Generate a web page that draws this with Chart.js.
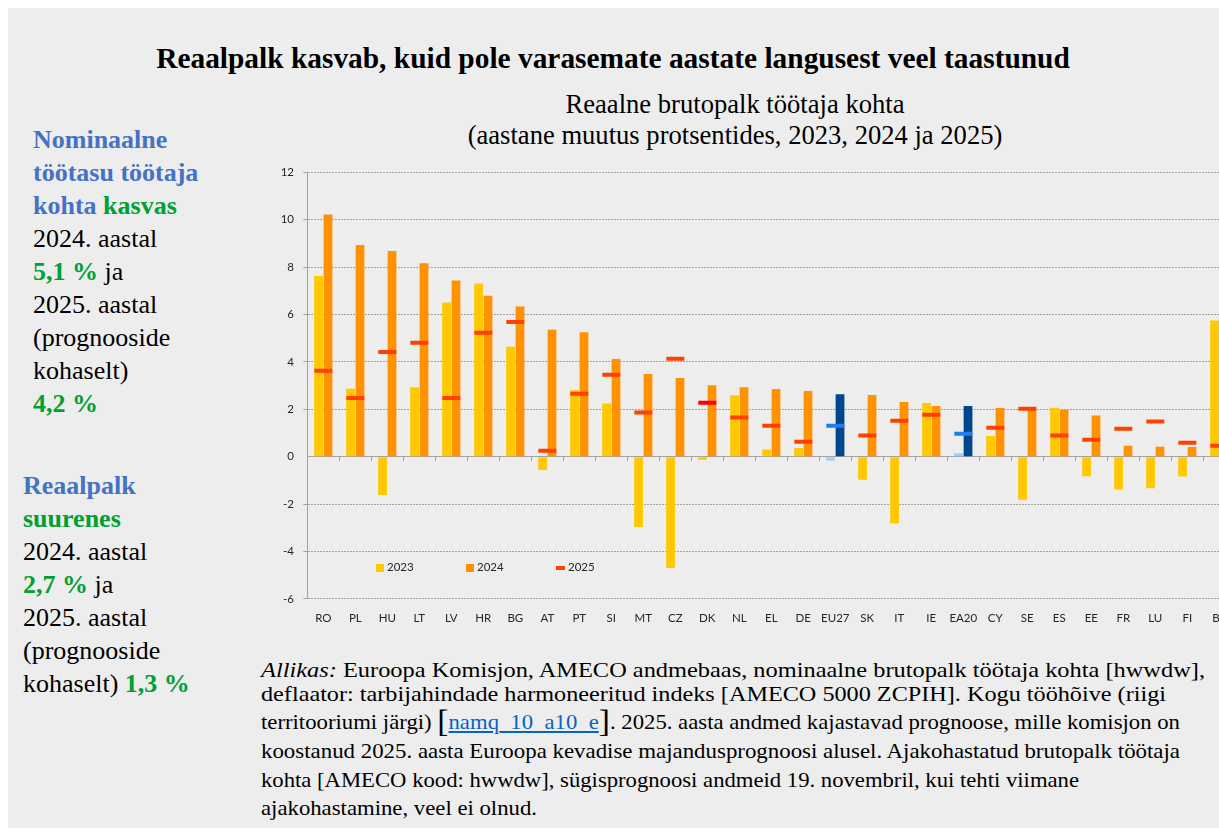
<!DOCTYPE html>
<html><head><meta charset="utf-8">
<script src="https://cdn.jsdelivr.net/npm/chart.js@4.4.1/dist/chart.umd.min.js"></script>
<style>
html,body{margin:0;padding:0;width:1219px;height:828px;overflow:hidden;background:#fff;position:relative;}
#bg{position:absolute;left:8px;top:8px;width:1211px;height:820px;background:#EDEDED;}
.serif{font-family:"Liberation Serif","Times New Roman",serif;color:#000;}
#title{position:absolute;left:0;width:1226px;top:40px;text-align:center;font-weight:bold;font-size:29.4px;line-height:36px;white-space:nowrap;}
#sub{position:absolute;left:335px;width:800px;top:89px;text-align:center;font-size:26.6px;line-height:31px;white-space:nowrap;}
.side{position:absolute;font-size:26px;line-height:33px;white-space:nowrap;}
.b{font-weight:bold;color:#4472C4;}
.g{font-weight:bold;color:#00A032;}
.fn{position:absolute;left:261px;font-size:21px;white-space:nowrap;line-height:24px;transform-origin:0 50%;}
.fn a{color:#0563C1;text-decoration:underline;}
.br{font-size:31px;vertical-align:-3px;}
#chartwrap{position:absolute;left:250px;top:150px;width:1000px;height:490px;}
.lg{position:absolute;font-family:Lato,"Open Sans",sans-serif;font-size:11.5px;color:#262626;line-height:14px;}
.sq{position:absolute;width:8px;height:8px;}
</style></head>
<body>
<div id="bg"></div>
<div id="title" class="serif">Reaalpalk kasvab, kuid pole varasemate aastate langusest veel taastunud</div>
<div id="sub" class="serif">Reaalne brutopalk töötaja kohta<br>(aastane muutus protsentides, 2023, 2024 ja 2025)</div>

<div class="side serif" style="left:33px;top:123px;">
<span class="b">Nominaalne</span><br>
<span class="b">töötasu töötaja</span><br>
<span class="b">kohta</span> <span class="g">kasvas</span><br>
2024. aastal<br>
<span class="g">5,1 %</span> ja<br>
2025. aastal<br>
(prognooside<br>
kohaselt)<br>
<span class="g">4,2 %</span>
</div>
<div class="side serif" style="left:23px;top:469px;">
<span class="b">Reaalpalk</span><br>
<span class="g">suurenes</span><br>
2024. aastal<br>
<span class="g">2,7 %</span> ja<br>
2025. aastal<br>
(prognooside<br>
kohaselt) <span class="g">1,3 %</span>
</div>

<div class="fn serif" data-right="1205" style="top:658px;"><i>Allikas:</i> Euroopa Komisjon, AMECO andmebaas, nominaalne brutopalk töötaja kohta [hwwdw],</div>
<div class="fn serif" data-right="1166" style="top:682px;">deflaator: tarbijahindade harmoneeritud indeks [AMECO 5000 ZCPIH]. Kogu tööhõive (riigi</div>
<div class="fn serif" data-right="1180" style="top:710px;">territooriumi järgi) <span class="br">[</span><a>namq_10_a10_e</a><span class="br">]</span>. 2025. aasta andmed kajastavad prognoose, mille komisjon on</div>
<div class="fn serif" data-right="1180" style="top:739px;">koostanud 2025. aasta Euroopa kevadise majandusprognoosi alusel. Ajakohastatud brutopalk töötaja</div>
<div class="fn serif" data-right="1079" style="top:768px;">kohta [AMECO kood: hwwdw], sügisprognoosi andmeid 19. novembril, kui tehti viimane</div>
<div class="fn serif" data-right="537" style="top:796px;">ajakohastamine, veel ei olnud.</div>

<div id="chartwrap"><canvas id="c" width="1000" height="490"></canvas></div>

<div class="sq" style="left:376px;top:564px;background:#FFC800;"></div>
<div class="lg" style="left:387px;top:560px;">2023</div>
<div class="sq" style="left:466px;top:564px;background:#FF9200;"></div>
<div class="lg" style="left:477px;top:560px;">2024</div>
<div class="sq" style="left:556px;top:566px;width:9px;height:4px;background:#FF4000;"></div>
<div class="lg" style="left:568px;top:560px;">2025</div>

<script>
const categories = ['RO','PL','HU','LT','LV','HR','BG','AT','PT','SI','MT','CZ','DK','NL','EL','DE','EU27','SK','IT','IE','EA20','CY','SE','ES','EE','FR','LU','FI','BE'];
const values2023 = [7.62,2.87,-1.62,2.93,6.51,7.31,4.64,-0.56,2.81,2.25,-2.97,-4.70,-0.13,2.59,0.30,0.37,-0.17,-0.97,-2.81,2.27,0.15,0.87,-1.82,2.07,-0.83,-1.38,-1.33,-0.84,5.75];
const values2024 = [10.22,8.93,8.68,8.16,7.43,6.79,6.34,5.36,5.25,4.12,3.49,3.32,3.02,2.93,2.86,2.77,2.64,2.60,2.31,2.14,2.14,2.05,2.00,1.98,1.74,0.46,0.42,0.41,1.00];
const values2025 = [3.63,2.48,4.42,4.81,2.48,5.23,5.68,0.25,2.66,3.46,1.86,4.13,2.28,1.65,1.31,0.63,1.31,0.89,1.52,1.77,0.97,1.22,2.02,0.89,0.72,1.18,1.48,0.59,0.46];
const yTickValues = [-6,-4,-2,0,2,4,6,8,10,12];
const aggregates = ['EU27','EA20'];

// fit each footnote line to the reference line width
document.querySelectorAll('.fn').forEach(el => {
  const w = el.getBoundingClientRect().width;
  const target = parseFloat(el.dataset.right) - 261;
  el.style.transform = 'scaleX(' + (target / w).toFixed(4) + ')';
});

const isAgg = c => aggregates.includes(c);
const col2023 = categories.map(c => isAgg(c) ? '#A6CBF5' : '#FFC800');
const col2024 = categories.map(c => isAgg(c) ? '#00468E' : '#FF9200');
const col2025 = categories.map(c => isAgg(c) ? '#1E80EE' : (c === 'DK' ? '#FF0000' : '#FF4000'));

const axisFont = {family: 'Lato, "Open Sans", sans-serif', size: 11.5};
const gridCol = '#a3a3a3';

new Chart(document.getElementById('c'), {
  type: 'bar',
  data: {
    labels: categories,
    datasets: [
      {label: '2023', data: values2023, backgroundColor: col2023, order: 2},
      {label: '2024', data: values2024, backgroundColor: col2024, order: 2},
      {type: 'line', label: '2025', data: values2025, showLine: false, pointStyle: 'line',
       pointRadius: 9, pointHoverRadius: 9, pointBorderWidth: 4, pointHoverBorderWidth: 4,
       borderWidth: 4, pointBorderColor: col2025, pointBackgroundColor: col2025, borderColor: col2025, order: 0}
    ]
  },
  options: {
    responsive: false, animation: false, devicePixelRatio: 1,
    layout: {padding: {left: 0, right: 14.7, top: 22.3, bottom: 0}},
    plugins: {legend: {display: false}, tooltip: {enabled: false}, title: {display: false}},
    datasets: {bar: {categoryPercentage: 0.59, barPercentage: 0.93}},
    scales: {
      x: {
        position: 'bottom', offset: true,
        grid: {display: false, drawTicks: false},
        border: {display: false},
        ticks: {font: axisFont, color: '#262626', padding: 12.2, autoSkip: false, maxRotation: 0},
        afterFit: s => { s.height = 41.1; }
      },
      x0: {
        type: 'category', axis: 'x', position: {y: 0}, offset: true,
        grid: {offset: true, drawOnChartArea: false, drawTicks: true, tickLength: 4, color: gridCol},
        border: {display: true, color: gridCol, width: 1},
        ticks: {display: false}
      },
      y: {
        min: -6, max: 12,
        afterBuildTicks: s => { s.ticks = yTickValues.map(v => ({value: v})); },
        ticks: {font: axisFont, color: '#262626', padding: 9.3},
        grid: {color: c => (c.tick && c.tick.value === 0) ? 'rgba(0,0,0,0)' : gridCol, tickLength: 4, lineWidth: 1},
        border: {display: true, color: gridCol, dash: [2, 1]},
        afterFit: s => { s.width = 57.3; }
      }
    }
  }
});
</script>
</body></html>
